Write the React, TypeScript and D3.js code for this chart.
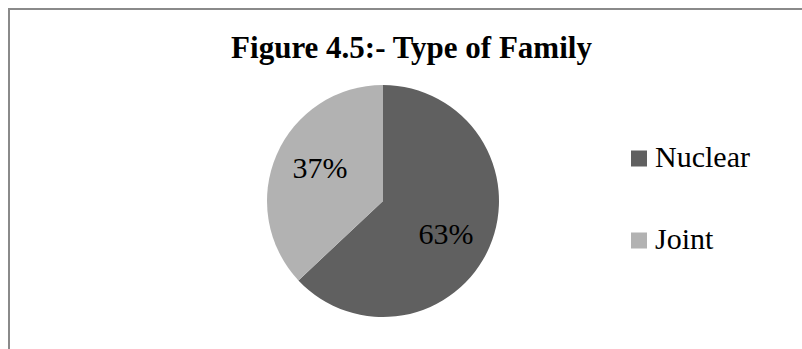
import React from "react";
import * as d3 from "d3";

const categories = ["Nuclear", "Joint"];
const values = [63, 37];
const labels = ["63%", "37%"];
const colors = ["#606060", "#b2b2b2"];
const title = "Figure 4.5:- Type of Family";

export default function App() {
  const W = 802;
  const H = 349;
  const cx = 383;
  const cy = 201;
  const R = 116;
  const pie = d3.pie<number>().sort(null).value((d) => d)(values);
  const arc = d3.arc<d3.PieArcDatum<number>>().innerRadius(0).outerRadius(R);
  const labelR = 71;
  const labelShift = 0.07;
  const legendY = d3.scalePoint<string>().domain(categories).range([158, 240]);
  const font = "'Liberation Serif', 'Times New Roman', serif";
  return (
    <svg width={W} height={H} style={{ position: "absolute", left: 0, top: 0 }} fontFamily={font}>
      <rect x={0} y={0} width={W} height={H} fill="#fff" />
      <rect x={9} y={9} width={W + 10} height={H + 10} fill="#fff" stroke="#8a8a8a" strokeWidth={2} />
      <text x={411.5} y={58} textAnchor="middle" fontSize={31} fontWeight="bold" fill="#000">
        {title}
      </text>
      <g transform={`translate(${cx},${cy})`}>
        {pie.map((p, i) => (
          <path key={i} d={arc(p) || ""} fill={colors[i]} />
        ))}
        {pie.map((p, i) => {
          const a = (p.startAngle + p.endAngle) / 2 + labelShift;
          const x = Math.sin(a) * labelR;
          const y = -Math.cos(a) * labelR;
          return (
            <text key={"l" + i} x={x} y={y} dy="0.33em" textAnchor="middle" fontSize={30} fill="#000">
              {labels[i]}
            </text>
          );
        })}
      </g>
      {categories.map((c, i) => {
        const y = legendY(c) as number;
        return (
          <g key={c}>
            <rect x={631} y={y - 7.5} width={16} height={16} fill={colors[i]} />
            <text x={655} y={y + 8.5} fontSize={30} fill="#000">
              {c}
            </text>
          </g>
        );
      })}
    </svg>
  );
}
